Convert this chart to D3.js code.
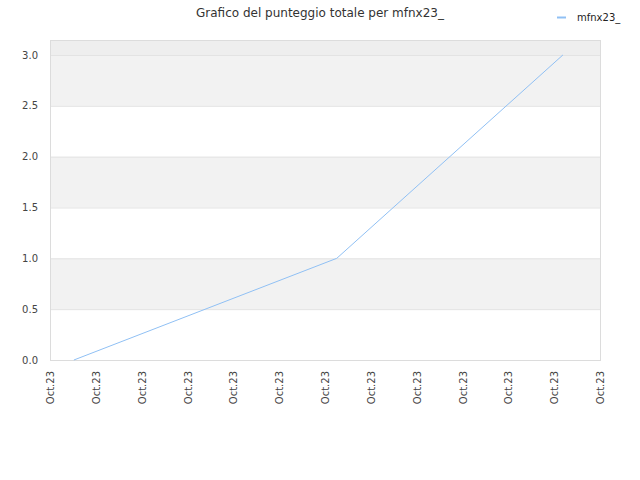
<!DOCTYPE html>
<html>
<head>
<meta charset="utf-8">
<script src="https://cdn.jsdelivr.net/npm/d3@7"></script>
<style>
body { margin: 0; background: #fff; }
svg { font-family: "DejaVu Sans", sans-serif; }
</style>
</head>
<body>
<script>
//chart data
var seriesName = "mfnx23_";
var pointDates = ["2023-10-16T12:30", "2023-10-22T06:10", "2023-10-27T04:35"];
var pointValues = [0, 1, 3];
var yTicks = [0, 0.5, 1.0, 1.5, 2.0, 2.5, 3.0];
var xStart = "2023-10-16T00:00", xEnd = "2023-10-28T00:00";

var width = 640, height = 480;
var margin = {top: 40, right: 40, bottom: 120, left: 50};
var innerW = width - margin.left - margin.right,
	innerH = height - margin.top - margin.bottom;

var parse = d3.timeParse("%Y-%m-%dT%H:%M");

var svg = d3.select("body").append("svg")
	.attr("width", width)
	.attr("height", height);

var g = svg.append("g")
	.attr("transform", "translate(" + margin.left + "," + margin.top + ")");

var x = d3.scaleTime()
	.domain([parse(xStart), parse(xEnd)])
	.range([0, innerW]);

var y = d3.scaleLinear()
	.domain([0, 3.147])
	.range([innerH, 0]);

//alternating background bands
var bands = [];
for (var i = 0; i < yTicks.length - 1; i++){
	bands.push([yTicks[i], yTicks[i + 1], i % 2 == 1 ? "#f2f2f2" : "#ffffff"]);
}
bands.push([yTicks[yTicks.length - 1], y.domain()[1], "#eeeeee"]);

g.selectAll(".band")
	.data(bands)
	.enter()
	.append("rect")
	.attr("class", "band")
	.attr("x", 0)
	.attr("width", innerW)
	.attr("y", function(d){ return y(d[1]); })
	.attr("height", function(d){ return y(d[0]) - y(d[1]); })
	.attr("fill", function(d){ return d[2]; });

//grid lines
g.selectAll(".grid")
	.data(yTicks)
	.enter()
	.append("line")
	.attr("x1", 0)
	.attr("x2", innerW)
	.attr("y1", function(d){ return y(d) + 0.5; })
	.attr("y2", function(d){ return y(d) + 0.5; })
	.attr("stroke", "#e2e2e2");

//frame
g.append("rect")
	.attr("x", 0.5)
	.attr("y", 0.5)
	.attr("width", innerW)
	.attr("height", innerH)
	.attr("fill", "none")
	.attr("stroke", "#dcdcdc");

//y axis labels
var yAxis = g.append("g")
	.call(d3.axisLeft(y).tickValues(yTicks).tickFormat(d3.format(".1f")).tickSize(0).tickPadding(12));
yAxis.select(".domain").remove();
yAxis.selectAll("text")
	.attr("fill", "#444")
	.style("font-size", "10px")
	.style("font-family", "DejaVu Sans, sans-serif");

//x axis labels
var xAxis = g.append("g")
	.attr("transform", "translate(0," + innerH + ")")
	.call(d3.axisBottom(x).ticks(d3.timeDay.every(1)).tickFormat(d3.timeFormat("%b.%y")).tickSize(0));
xAxis.select(".domain").remove();
xAxis.selectAll("text")
	.attr("fill", "#444")
	.style("font-size", "10px")
	.style("font-family", "DejaVu Sans, sans-serif")
	.attr("text-anchor", "end")
	.attr("transform", "rotate(-90)")
	.attr("x", -11)
	.attr("y", 0)
	.attr("dy", "0.35em");

//series line
var data = pointDates.map(function(d, i){ return {date: parse(d), value: pointValues[i]}; });
var line = d3.line()
	.x(function(d){ return x(d.date); })
	.y(function(d){ return y(d.value); });

g.append("path")
	.datum(data)
	.attr("d", line)
	.attr("fill", "none")
	.attr("stroke", "#90c0f4")
	.attr("stroke-width", 1);

//title
svg.append("text")
	.attr("x", 320)
	.attr("y", 17)
	.attr("text-anchor", "middle")
	.attr("fill", "#333")
	.style("font-size", "12px")
	.text("Grafico del punteggio totale per " + seriesName);

//legend
svg.append("line")
	.attr("x1", 557)
	.attr("x2", 566)
	.attr("y1", 17.5)
	.attr("y2", 17.5)
	.attr("stroke", "#90c0f4")
	.attr("stroke-width", 2);
svg.append("text")
	.attr("x", 577)
	.attr("y", 21)
	.attr("fill", "#222")
	.style("font-size", "10px")
	.text(seriesName);
</script>
</body>
</html>
